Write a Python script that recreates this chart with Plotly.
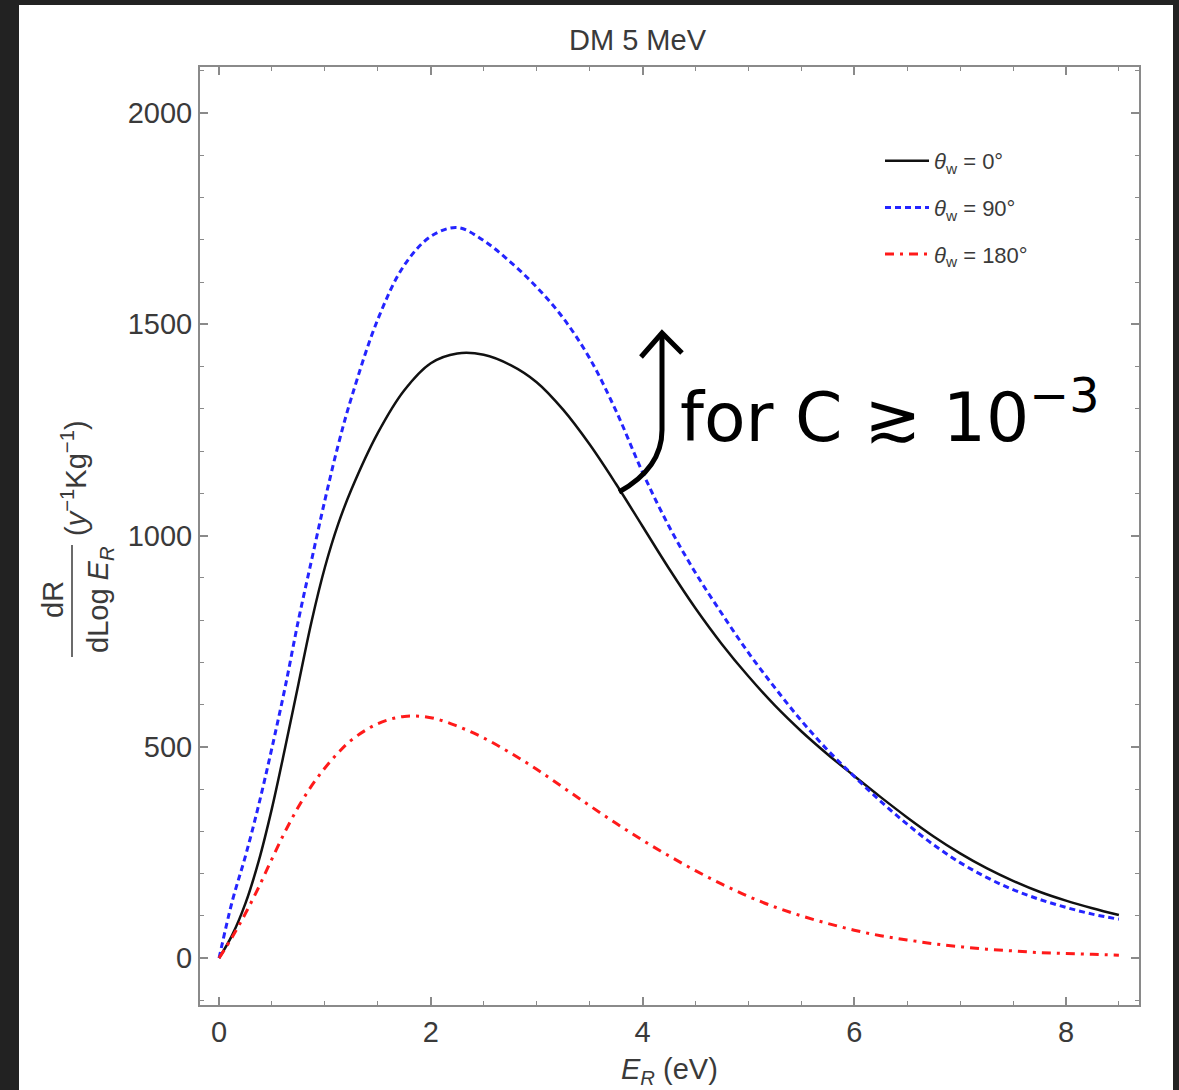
import plotly.graph_objects as go

# Recoil energy grid (eV)
e_recoil = [0, 0.125, 0.25, 0.375, 0.5, 0.625, 0.75, 0.875, 1.0, 1.125, 1.25, 1.5, 1.75,
            2.0, 2.25, 2.5, 2.75, 3.0, 3.25, 3.5, 3.75, 4.0, 4.25, 4.5, 4.75, 5.0,
            5.25, 5.5, 5.75, 6.0, 6.25, 6.5, 6.75, 7.0, 7.25, 7.5, 7.75, 8.0, 8.25, 8.5]

# dR/dlogE_R (y^-1 kg^-1) for three wind angles
rate_0 = [0, 55, 130, 230, 355, 499, 649, 798, 925, 1027, 1109, 1243, 1344,
          1408, 1431, 1428, 1404, 1363, 1298, 1216, 1122, 1022, 922, 828, 743, 667,
          598, 537, 482, 431, 381, 333, 288, 248, 213, 183, 157, 136, 118, 102]
rate_90 = [0, 135, 242, 363, 498, 642, 800, 943, 1084, 1214, 1326, 1512, 1640,
           1708, 1729, 1698, 1648, 1588, 1515, 1420, 1295, 1150, 1022, 912, 815, 723,
           640, 562, 492, 430, 371, 317, 268, 226, 191, 162, 139, 120, 104, 92]
rate_180 = [0, 50, 106, 168, 235, 300, 358, 408, 450, 486, 516, 555, 572,
            569, 549, 521, 486, 447, 404, 361, 319, 279, 242, 207, 175, 146,
            121, 100, 82, 66, 53, 43, 34, 27, 21, 17, 13, 11, 9, 7]

series_names = ["<i>θ</i><sub>w</sub> = 0°", "<i>θ</i><sub>w</sub> = 90°", "<i>θ</i><sub>w</sub> = 180°"]

x_ticks = [0, 2, 4, 6, 8]
y_ticks = [0, 500, 1000, 1500, 2000]

FONT = "Liberation Sans, Arial, sans-serif"
GREY_TXT = "#3a3a3a"
FRAME = "#8a8a8a"

W, H = 1179, 1090
L, T, R, B = 200, 67, 1139, 1005


def px(x):
    return (x - L) / (R - L)


def py(y):
    return (B - y) / (B - T)


fig = go.Figure()
fig.add_trace(go.Scatter(x=e_recoil, y=rate_0, mode="lines", name=series_names[0],
                         line=dict(color="#111111", width=2.5, shape="spline"),
                         legendgroup="a"))
fig.add_trace(go.Scatter(x=e_recoil, y=rate_90, mode="lines", name=series_names[1],
                         line=dict(color="#2424ff", width=3, dash="6px,4px", shape="spline"),
                         legendgroup="b"))
fig.add_trace(go.Scatter(x=e_recoil, y=rate_180, mode="lines", name=series_names[2],
                         line=dict(color="#ff1a1a", width=3, dash="9px,6px,3px,6px", shape="spline"),
                         legendgroup="c"))

axis_common = dict(showline=True, linecolor=FRAME, linewidth=2, mirror="allticks",
                   ticks="inside", tickcolor=FRAME, tickwidth=1.5, ticklen=8,
                   showgrid=False, zeroline=False,
                   tickfont=dict(family=FONT, size=29, color=GREY_TXT))

fig.update_xaxes(range=[-0.18, 8.69], tickvals=x_ticks,
                 minor=dict(ticks="inside", dtick=0.5, ticklen=4, tickcolor=FRAME, tickwidth=1),
                 **axis_common)
fig.update_yaxes(range=[-111, 2109], tickvals=y_ticks, ticklabelstandoff=0,
                 minor=dict(ticks="inside", dtick=100, ticklen=4, tickcolor=FRAME, tickwidth=1),
                 **axis_common)

shapes = [
    # white page inside the dark window border
    dict(type="rect", xref="paper", yref="paper", layer="below",
         x0=px(19), x1=px(1173), y0=py(1200), y1=py(5),
         fillcolor="white", line=dict(width=0)),
    # fraction bar of the y-axis label
    dict(type="line", xref="paper", yref="paper",
         x0=px(72), x1=px(72), y0=py(657), y1=py(545),
         line=dict(color=GREY_TXT, width=1.5)),
    # hand-drawn arrow
    dict(type="path", xref="paper", yref="paper",
         path=(f"M {px(619)},{py(492)} Q {px(662)},{py(468)} {px(662)},{py(430)} "
               f"L {px(662)},{py(334)}"),
         line=dict(color="black", width=5)),
    dict(type="path", xref="paper", yref="paper",
         path=f"M {px(641)},{py(357)} L {px(662)},{py(333)} L {px(682)},{py(353)}",
         line=dict(color="black", width=5)),
]


def label(text, x, y, size=29, angle=0, color=GREY_TXT, family=FONT):
    return dict(text=text, x=px(x), y=py(y), xref="paper", yref="paper",
                xanchor="center", yanchor="middle", textangle=angle, showarrow=False,
                font=dict(family=family, size=size, color=color))


annotations = [
    label("DM 5 MeV", 638, 40),
    label("<i>E<sub>R</sub></i> (eV)", 669, 1071),
    label("dR", 53, 600, angle=-90),
    label("dLog <i>E<sub>R</sub></i>", 100, 600, angle=-90),
    label("(<i>y</i><sup>−1</sup>Kg<sup>−1</sup>)", 74, 478, angle=-90),
    label("for C ≳ 10<sup>−3</sup>", 890, 412, size=68, color="black", family="DejaVu Sans"),
]

fig.update_layout(
    width=W, height=H, autosize=False,
    margin=dict(l=L, r=W - R, t=T, b=H - B),
    paper_bgcolor="#222222", plot_bgcolor="white",
    showlegend=True,
    legend=dict(x=px(880), y=py(140), xanchor="left", yanchor="top", itemwidth=44,
                bgcolor="rgba(0,0,0,0)", font=dict(family=FONT, size=22, color=GREY_TXT),
                tracegroupgap=15, traceorder="grouped"),
    shapes=shapes, annotations=annotations,
)

fig.write_html("out.html")
